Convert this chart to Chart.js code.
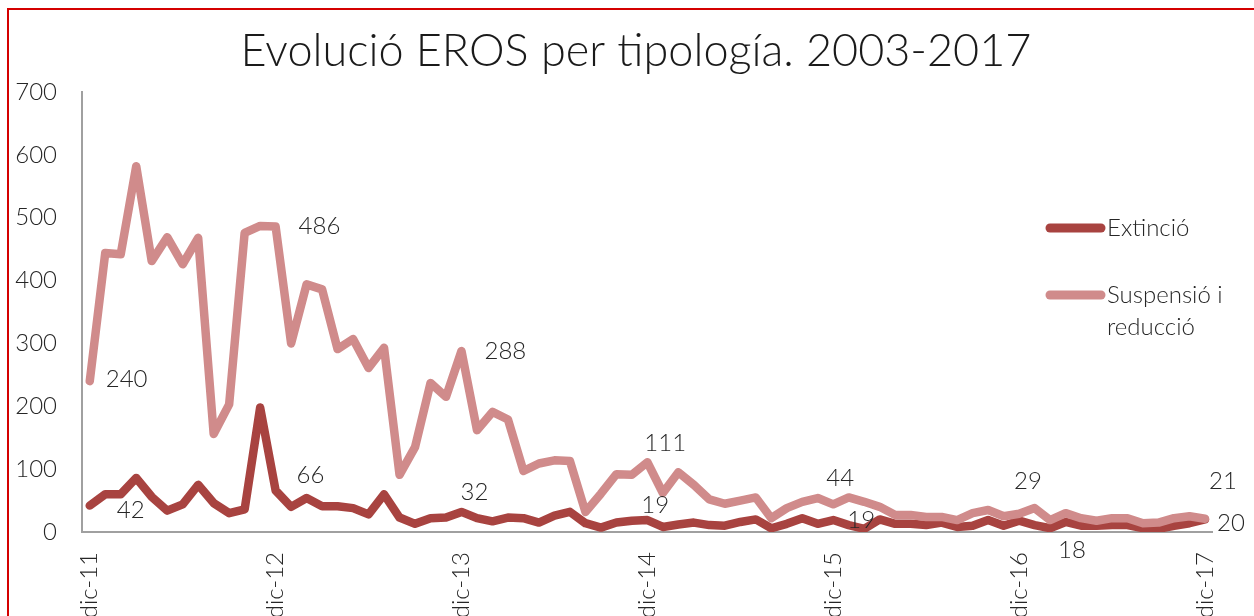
<!DOCTYPE html>
<html><head><meta charset="utf-8">
<script src="https://cdn.jsdelivr.net/npm/chart.js@4"></script>
<style>
html,body{margin:0;padding:0;background:#fff;}
#wrap{position:relative;width:1254px;height:616px;overflow:hidden;background:#fff;}
#frame{position:absolute;left:7px;top:8px;width:2000px;height:2000px;border-left:2px solid #d40000;border-top:2px solid #d40000;pointer-events:none;}
canvas{display:block;}
</style></head><body>
<div id="wrap"><canvas id="c" width="1254" height="616"></canvas><div id="frame"></div></div>
<script>
const categories = [
 'dic-11','ene-12','feb-12','mar-12','abr-12','may-12','jun-12','jul-12','ago-12','sep-12','oct-12','nov-12',
 'dic-12','ene-13','feb-13','mar-13','abr-13','may-13','jun-13','jul-13','ago-13','sep-13','oct-13','nov-13',
 'dic-13','ene-14','feb-14','mar-14','abr-14','may-14','jun-14','jul-14','ago-14','sep-14','oct-14','nov-14',
 'dic-14','ene-15','feb-15','mar-15','abr-15','may-15','jun-15','jul-15','ago-15','sep-15','oct-15','nov-15',
 'dic-15','ene-16','feb-16','mar-16','abr-16','may-16','jun-16','jul-16','ago-16','sep-16','oct-16','nov-16',
 'dic-16','ene-17','feb-17','mar-17','abr-17','may-17','jun-17','jul-17','ago-17','sep-17','oct-17','nov-17',
 'dic-17'];
const extincio = [
 42,60,60,86,56,34,44,75,46,30,36,198,
 66,40,54,41,41,38,28,60,23,13,22,23,
 32,22,17,23,22,15,26,32,14,7,15,18,
 19,8,12,15,11,10,16,20,6,13,22,13,
 19,11,5,20,13,13,11,15,8,10,19,10,
 18,11,6,16,10,10,11,11,6,5,10,14,
 20];
const suspensio = [
 240,444,442,582,431,469,426,468,156,203,476,487,
 486,300,394,386,291,307,261,293,91,135,237,215,
 288,162,191,179,97,109,114,113,32,61,92,91,
 111,62,95,75,52,45,50,55,22,38,48,54,
 44,55,48,40,27,27,24,24,19,30,35,25,
 29,38,19,30,22,18,22,22,14,15,22,25,
 21];
const yTicks = [0,100,200,300,400,500,600,700];
const labelledIdx = [0,12,24,36,48,60,72];
const seriesNames = ['Extinció', 'Suspensió i reducció'];
const titleText = 'Evolució EROS per tipología. 2003-2017';

// styles
const FONT = 'Lato';
const darkColor = '#a84340';
const lightColor = '#d08b8b';
const textColor = '#262626';
const suspOffsets = [[16,-2],[23,0],[23,0],[-3,-19],[-7,-26],[-5,-33],[4,-38]];
const extOffsets  = [[27,5],[21,-15],[-1,-20],[-6,-15],[14,0],[39,30],[12,4]];

const decor = {
  id: 'decor',
  afterDraw(chart) {
    const ctx = chart.ctx;
    ctx.save();
    // title
    ctx.fillStyle = '#1a1a1a';
    ctx.font = '300 45px ' + FONT;
    ctx.textAlign = 'center';
    ctx.textBaseline = 'alphabetic';
    ctx.fillText(titleText, 636, 66);
    // data labels
    ctx.font = '300 24px ' + FONT;
    ctx.fillStyle = textColor;
    ctx.textAlign = 'left';
    ctx.textBaseline = 'middle';
    const lightMeta = chart.getDatasetMeta(1);
    const darkMeta = chart.getDatasetMeta(0);
    labelledIdx.forEach((idx, k) => {
      const pl = lightMeta.data[idx];
      ctx.fillText(String(suspensio[idx]), pl.x + suspOffsets[k][0], pl.y + suspOffsets[k][1]);
      const pd = darkMeta.data[idx];
      ctx.fillText(String(extincio[idx]), pd.x + extOffsets[k][0], pd.y + extOffsets[k][1]);
    });
    // legend
    ctx.lineCap = 'round';
    ctx.lineWidth = 9;
    ctx.strokeStyle = darkColor;
    ctx.beginPath(); ctx.moveTo(1050, 228); ctx.lineTo(1101, 228); ctx.stroke();
    ctx.strokeStyle = lightColor;
    ctx.beginPath(); ctx.moveTo(1050, 295); ctx.lineTo(1101, 295); ctx.stroke();
    ctx.fillStyle = textColor;
    ctx.fillText(seriesNames[0], 1107, 228);
    ctx.fillText('Suspensió i', 1107, 295);
    ctx.fillText('reducció', 1107, 327);
    ctx.restore();
  }
};

new Chart(document.getElementById('c'), {
  type: 'line',
  data: {
    labels: categories,
    datasets: [
      { label: seriesNames[0], data: extincio, borderColor: darkColor, backgroundColor: darkColor,
        borderWidth: 8.5, pointRadius: 0, tension: 0, borderJoinStyle: 'round', borderCapStyle: 'round', order: 1 },
      { label: seriesNames[1], data: suspensio, borderColor: lightColor, backgroundColor: lightColor,
        borderWidth: 8.5, pointRadius: 0, tension: 0, borderJoinStyle: 'round', borderCapStyle: 'round', order: 0 }
    ]
  },
  options: {
    responsive: false,
    animation: false,
    devicePixelRatio: 1,
    layout: { padding: { left: 0, right: 30, top: 92, bottom: 0 } },
    plugins: { legend: { display: false }, title: { display: false }, tooltip: { enabled: false } },
    scales: {
      x: {
        type: 'category', offset: true,
        grid: { display: false, drawTicks: false },
        border: { display: true, color: '#a0a0a0', width: 2 },
        ticks: {
          autoSkip: false, maxRotation: 90, minRotation: 90, padding: 20,
          color: textColor, font: { family: FONT, size: 24, weight: '300' },
          callback: function (v, i) { return i % 12 === 0 ? this.getLabelForValue(v) : ''; }
        },
        afterFit: s => { s.height = 84; }
      },
      y: {
        min: 0, max: 700,
        grid: { display: false, drawTicks: false },
        border: { display: true, color: '#a0a0a0', width: 2 },
        afterBuildTicks: s => { s.ticks = yTicks.map(v => ({ value: v })); },
        ticks: { padding: 25, color: textColor, font: { family: FONT, size: 24, weight: '300' } },
        afterFit: s => { s.width = 82; }
      }
    }
  },
  plugins: [decor]
});
</script>
</body></html>
